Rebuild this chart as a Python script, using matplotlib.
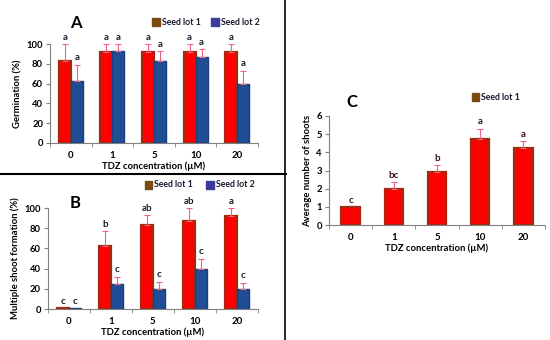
import matplotlib
matplotlib.use("Agg")
import matplotlib.pyplot as plt
import numpy as np

plt.rcParams["font.family"] = ["Lato", "DejaVu Sans"]
plt.rcParams["font.weight"] = "bold"

categories = ["0", "1", "5", "10", "20"]

germ_lot1 = [83, 92, 92, 92, 92]
germ_lot1_err = [17, 8, 8, 8, 8]
germ_lot2 = [63, 93, 83, 87, 60]
germ_lot2_err = [16, 7, 10, 8, 13]
germ_lot1_letters = ["a", "a", "a", "a", "a"]
germ_lot2_letters = ["a", "a", "a", "a", "a"]

msf_lot1 = [0.8, 62, 83, 87, 92]
msf_lot1_err = [0, 15, 10, 13, 8]
msf_lot2 = [0.8, 25, 20, 40, 20]
msf_lot2_err = [0, 7, 7, 10, 6]
msf_lot1_letters = ["c", "b", "ab", "ab", "a"]
msf_lot2_letters = ["c", "c", "c", "c", "c"]

shoots_lot1 = [1.0, 2.0, 2.9, 4.75, 4.25]
shoots_lot1_err = [0, 0.35, 0.4, 0.55, 0.35]
shoots_letters = ["c", "bc", "b", "a", "a"]

RED = "#ff0000"
RED_EDGE = "#a32a10"
BLUE = "#1f4e96"
BLUE_EDGE = "#1a3f7a"
LEG1 = "#7a4a12"
LEG2 = "#3b3b9a"
ERR = "#f06080"
TXT = "#1a1a2e"
SPINE = "#808080"


def style_axes(ax, ymax, step, ylabel):
    n = len(categories)
    ax.set_xlim(-0.5, n - 0.5)
    ax.set_ylim(0, ymax)
    ax.set_yticks(np.arange(0, ymax + 0.001, step))
    ax.set_xticks(range(n))
    ax.set_xticklabels(categories)
    ax.set_xticks(np.arange(-0.5, n, 1.0), minor=True)
    ax.tick_params(axis="x", which="major", length=0, pad=6, labelsize=7)
    ax.tick_params(axis="x", which="minor", length=3, color=SPINE, direction="out")
    ax.tick_params(axis="y", length=3, color=SPINE, labelsize=6.8, pad=2)
    for s in ("top", "right"):
        ax.spines[s].set_visible(False)
    for s in ("left", "bottom"):
        ax.spines[s].set_color(SPINE)
        ax.spines[s].set_linewidth(0.8)
    ax.set_ylabel(ylabel, fontsize=6.8, fontweight="bold", labelpad=3)
    ax.set_xlabel("TDZ concentration (µM)", fontsize=6.8, fontweight="bold", labelpad=1)


def pair_bars(ax, v1, e1, l1, v2, e2, l2, ymax):
    x = np.arange(len(categories))
    w = 0.29
    ax.bar(x - w / 2, v1, w, color=RED, edgecolor=RED_EDGE, linewidth=1.6)
    ax.bar(x + w / 2, v2, w, color=BLUE, edgecolor=BLUE_EDGE, linewidth=1.0)
    for xi, v, e in zip(x - w / 2, v1, e1):
        if e > 0:
            ax.errorbar(xi, v, yerr=[[0], [e]], color=ERR, lw=0.8, capsize=2, capthick=0.8)
    for xi, v, e in zip(x + w / 2, v2, e2):
        if e > 0:
            ax.errorbar(xi, v, yerr=[[0], [e]], color=ERR, lw=0.8, capsize=2, capthick=0.8)
    off = ymax * 0.025
    for xi, v, e, t in zip(x - w / 2, v1, e1, l1):
        ax.text(xi, v + e + off, t, ha="center", va="bottom", fontsize=7,
                fontweight="bold", color=TXT, clip_on=False)
    for xi, v, e, t in zip(x + w / 2, v2, e2, l2):
        ax.text(xi, v + e + off, t, ha="center", va="bottom", fontsize=7,
                fontweight="bold", color=TXT, clip_on=False)


def legend_item(fig, x, y, color, label):
    fig.patches.append(plt.Rectangle((x, y - 0.012), 0.0135, 0.024, color=color,
                                     transform=fig.transFigure, figure=fig))
    fig.text(x + 0.017, y, label, fontsize=6.3, fontweight="bold", va="center", color=TXT)


fig = plt.figure(figsize=(5.5, 3.4), dpi=100)

# Panel A
axA = fig.add_axes([0.091, 0.580, 0.378, 0.290])
pair_bars(axA, germ_lot1, germ_lot1_err, germ_lot1_letters,
          germ_lot2, germ_lot2_err, germ_lot2_letters, 100)
style_axes(axA, 100, 20, "Germination (%)")
fig.text(0.137, 0.932, "A", fontsize=12, fontweight="bold", ha="center", va="center")
legend_item(fig, 0.277, 0.935, LEG1, "Seed lot 1")
legend_item(fig, 0.384, 0.935, LEG2, "Seed lot 2")

# Panel B
axB = fig.add_axes([0.087, 0.091, 0.382, 0.297])
pair_bars(axB, msf_lot1, msf_lot1_err, msf_lot1_letters,
          msf_lot2, msf_lot2_err, msf_lot2_letters, 100)
style_axes(axB, 100, 20, "Multiple shoot formation (%)")
fig.text(0.137, 0.402, "B", fontsize=12, fontweight="bold", ha="center", va="center")
legend_item(fig, 0.263, 0.457, LEG1, "Seed lot 1")
legend_item(fig, 0.375, 0.457, LEG2, "Seed lot 2")

# Panel C
axC = fig.add_axes([0.598, 0.338, 0.393, 0.321])
xc = np.arange(len(categories))
axC.bar(xc, shoots_lot1, 0.42, color=RED, edgecolor=RED_EDGE, linewidth=1.6)
for xi, v, e, t in zip(xc, shoots_lot1, shoots_lot1_err, shoots_letters):
    if e > 0:
        axC.errorbar(xi, v, yerr=[[0], [e]], color=ERR, lw=0.8, capsize=2, capthick=0.8)
    axC.text(xi, v + e + 0.12, t, ha="center", va="bottom", fontsize=7,
             fontweight="bold", color="#3a1020", clip_on=False)
style_axes(axC, 6, 1, "Average number of shoots")
fig.text(0.640, 0.700, "C", fontsize=12, fontweight="bold", ha="center", va="center")
legend_item(fig, 0.858, 0.714, LEG1, "Seed lot 1")

# separator lines
fig.add_artist(plt.Line2D([0, 0.52], [0.488, 0.488], color="black", lw=1.5,
                          transform=fig.transFigure))
fig.add_artist(plt.Line2D([0.519, 0.519], [0, 1], color="black", lw=1.2,
                          transform=fig.transFigure))

fig.savefig("out.png", dpi=100)
